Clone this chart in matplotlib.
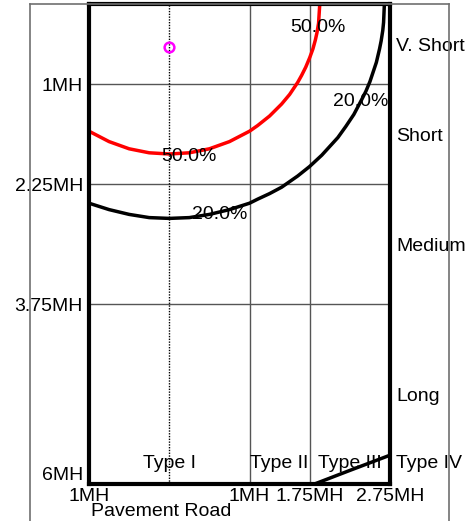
import matplotlib
matplotlib.use("Agg")
from matplotlib import pyplot as plt
from matplotlib.lines import Line2D

plt.rcParams['font.family'] = ['Liberation Sans', 'DejaVu Sans']

# distances in mounting heights (MH)
x_ticks = [-1.0, 1.0, 1.75, 2.75]
x_tick_labels = ["1MH", "1MH", "1.75MH", "2.75MH"]
y_ticks = [1.0, 2.25, 3.75, 6.0]
y_tick_labels = ["1MH", "2.25MH", "3.75MH", "6MH"]

type_names = ["Type I", "Type II", "Type III"]
type_pos = [0.0, 1.375, 2.25]
range_names = ["V. Short", "Short", "Medium", "Long"]
range_pos = [0.5, 1.625, 3.0, 4.875]

# iso-contour traces
red_x = [-1.0, -0.75, -0.5, -0.25, 0.0, 0.25, 0.5, 0.75, 1.0, 1.1, 1.25, 1.4, 1.5, 1.6,
         1.65, 1.7, 1.75, 1.79, 1.82, 1.84, 1.86, 1.875]
red_y = [1.59, 1.72, 1.81, 1.86, 1.875, 1.86, 1.81, 1.72, 1.59, 1.52, 1.40, 1.25, 1.13, 0.98,
         0.89, 0.79, 0.67, 0.56, 0.45, 0.36, 0.24, 0.0]
blk_x = [-1.0, -0.75, -0.5, -0.25, 0.0, 0.25, 0.5, 0.75, 1.0, 1.1, 1.25, 1.4, 1.5, 1.6, 1.75,
         1.9, 2.0, 2.1, 2.2, 2.3, 2.4, 2.45, 2.5, 2.55, 2.58, 2.62, 2.64, 2.66, 2.67, 2.68]
blk_y = [2.49, 2.57, 2.63, 2.67, 2.68, 2.67, 2.63, 2.57, 2.49, 2.44, 2.37, 2.29, 2.22, 2.15, 2.03,
         1.89, 1.78, 1.67, 1.53, 1.38, 1.19, 1.09, 0.97, 0.82, 0.73, 0.56, 0.46, 0.33, 0.23, 0.0]
far_x = [1.81, 2.25, 2.75]
far_y = [6.0, 5.83, 5.64]

max_x = [0.0]
max_y = [0.54]

pct_labels = ["50.0%", "20.0%", "50.0%", "20.0%"]
pct_x = [1.85, 2.39, 0.24, 0.625]
pct_y = [0.26, 1.19, 1.875, 2.6]

W, H = 475, 521
fig = plt.figure(figsize=(W / 100, H / 100), dpi=100)
ax = fig.add_axes([89 / W, 1 - 484 / H, (390 - 89) / W, 480 / H])
ax.set_xlim(-1.0, 2.75)
ax.set_ylim(6.0, 0.0)
ax.set_xticks([])
ax.set_yticks([])
for s in ax.spines.values():
    s.set_linewidth(3)
    s.set_color("black")
    s.set_zorder(5)

# outer thin frame
fs = 14
dy = 0.03
gray = "#707070"
fig.add_artist(Line2D([30 / W, 30 / W], [0, 1 - 4 / H], color=gray, lw=1.2))
fig.add_artist(Line2D([449 / W, 449 / W], [0, 1 - 4 / H], color=gray, lw=1.2))
fig.add_artist(Line2D([30 / W, 449 / W], [1 - 4 / H, 1 - 4 / H], color=gray, lw=1.2))

# grid
for yv in y_ticks[:-1]:
    ax.axhline(yv, color="#555555", lw=1)
for xv in x_ticks[1:-1]:
    ax.axvline(xv, color="#555555", lw=1)
ax.axvline(0.0, color="black", lw=1, linestyle=(0, (1, 1)))

kw = dict(lw=2.5, zorder=3, solid_joinstyle="round", solid_capstyle="butt")
ax.plot(red_x, red_y, color="red", **kw)
ax.plot(blk_x, blk_y, color="black", **kw)
ax.plot(far_x, far_y, color="black", clip_on=False, **kw)
ax.plot(max_x, max_y, "o", mfc="none", mec="#ff00ff", mew=1.8, ms=7, zorder=4)

for lab, x, y in zip(pct_labels, pct_x, pct_y):
    ax.text(x, y + dy, lab, fontsize=fs, ha="center", va="center", zorder=6)

for lab, y in zip(y_tick_labels, y_ticks):
    yy = 5.86 if y == 6.0 else y
    ax.text(-1.075, yy + dy, lab, fontsize=fs, ha="right", va="center", clip_on=False)
for lab, x in zip(x_tick_labels, x_ticks):
    ax.text(x, 6.125 + dy, lab, fontsize=fs, ha="center", va="center", clip_on=False)
ax.text(-0.98, 6.31 + dy, "Pavement Road", fontsize=fs, ha="left", va="center", clip_on=False)

for lab, x in zip(type_names, type_pos):
    ax.text(x, 5.71 + dy, lab, fontsize=fs, ha="center", va="center", zorder=6)
ax.text(2.825, 5.71 + dy, "Type IV", fontsize=fs, ha="left", va="center", clip_on=False)
for lab, y in zip(range_names, range_pos):
    ax.text(2.825, y + dy, lab, fontsize=fs, ha="left", va="center", clip_on=False)

fig.savefig("out.png", dpi=100)
